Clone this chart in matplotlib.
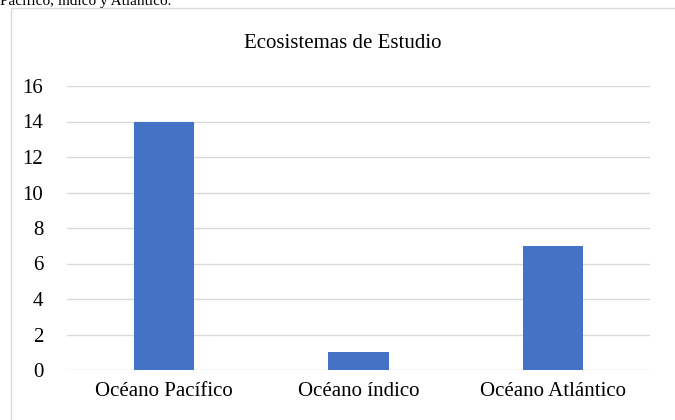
import matplotlib
matplotlib.use("Agg")
import matplotlib.pyplot as plt
from matplotlib.patches import Rectangle

# data
categorias = ["Océano Pacífico", "Océano índico", "Océano Atlántico"]
valores = [14, 1, 7]
yticks = [0, 2, 4, 6, 8, 10, 12, 14, 16]
titulo = "Ecosistemas de Estudio"
texto_superior = "Pacífico, índico y Atlántico."

plt.rcParams['font.family'] = ['Liberation Serif', 'DejaVu Serif']

fig = plt.figure(figsize=(6.75, 4.2), dpi=100)
W, H = 675.0, 420.0

# outer chart frame (right/bottom edges fall outside the crop)
frame = Rectangle((11 / W, -0.1), 1.1, 1 - 8 / H + 0.1, transform=fig.transFigure,
                  fill=False, edgecolor='#d9d9d9', linewidth=1.0, clip_on=False)
fig.add_artist(frame)

# text of the page above the chart, mostly cut off
fig.text(0, 1 - 4.5 / H, texto_superior, ha='left', va='baseline', fontsize=11)

ax = fig.add_axes([67 / W, 1 - 370 / H, (650 - 67) / W, (370 - 86) / H])
x = range(len(categorias))
ax.bar(x, valores, width=0.31, color='#4472C4', zorder=3)

ax.set_xlim(-0.5, len(categorias) - 0.5)
ax.set_ylim(0, 16)
ax.set_yticks(yticks)
ax.set_yticklabels([str(v) for v in yticks], fontsize=15)
ax.set_xticks(list(x))
ax.set_xticklabels(categorias, fontsize=15)
ax.tick_params(axis='both', length=0)
ax.tick_params(axis='y', pad=17)
ax.tick_params(axis='x', pad=9)
ax.grid(axis='y', color='#d9d9d9', linewidth=1.0, zorder=0)
for s in ax.spines.values():
    s.set_visible(False)

fig.text(343 / W, 1 - 44 / H, titulo, ha='center', va='center', fontsize=15)

fig.savefig("out.png", dpi=100)
